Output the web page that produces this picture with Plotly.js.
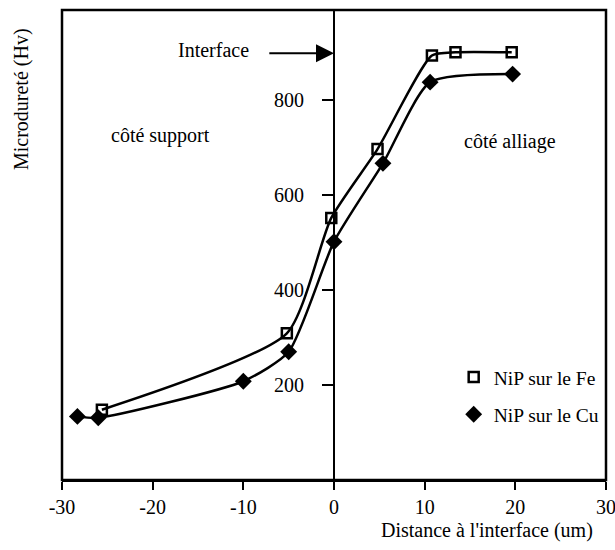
<!DOCTYPE html>
<html>
<head>
<meta charset="utf-8">
<script src="https://cdn.plot.ly/plotly-3.0.1.min.js"></script>
<style>html,body{margin:0;padding:0;background:#fff;}#chart{width:615px;height:550px;}</style>
</head>
<body>
<div id="chart"></div>
<script>
// Data
const feX = [-25.6, -5.2, -0.3, 4.8, 10.8, 13.4, 19.6];
const feY = [148, 309, 552, 697, 894, 901, 901];
const cuX = [-28.3, -26.0, -10.0, -5.0, 0.0, 5.4, 10.6, 19.7];
const cuY = [134, 131, 208, 270, 502, 667, 838, 855];
const feName = "NiP sur le Fe";
const cuName = "NiP sur le Cu";
const xTicks = [-30, -20, -10, 0, 10, 20, 30];
const yTicks = [200, 400, 600, 800];

const FONT = "Liberation Serif, Times New Roman, serif";

const traces = [
  {x: feX, y: feY, mode: "lines", line: {color: "#000", width: 2.5, shape: "spline", smoothing: 0.6},
   showlegend: false, hoverinfo: "skip"},
  {x: cuX, y: cuY, mode: "lines", line: {color: "#000", width: 2.5, shape: "spline", smoothing: 0.6},
   showlegend: false, hoverinfo: "skip"},
  {x: feX, y: feY, mode: "markers", name: feName, legendgroup: "fe",
   marker: {symbol: "square-open", size: 10, color: "#000", line: {width: 2.5, color: "#000"}}},
  {x: cuX, y: cuY, mode: "markers", name: cuName, legendgroup: "cu",
   marker: {symbol: "diamond", size: 13, color: "#000"}}
];

const layout = {
  width: 615, height: 550,
  margin: {l: 62, r: 9, t: 10, b: 70},
  paper_bgcolor: "#fff", plot_bgcolor: "#fff",
  font: {family: FONT, size: 20, color: "#000"},
  showlegend: true,
  legend: {x: 0.72, y: 0.26, xanchor: "left", yanchor: "top", bgcolor: "rgba(0,0,0,0)",
           font: {family: FONT, size: 19.5, color: "#000"}, tracegroupgap: 9, itemwidth: 30},
  xaxis: {range: [-30, 30], tickvals: xTicks, ticktext: xTicks.map(String),
          showgrid: false, zeroline: false, showline: true, linecolor: "#000", linewidth: 2,
          ticks: "outside", ticklen: 8, tickwidth: 2, tickcolor: "#000", ticklabeloverflow: "allow",
          tickfont: {family: FONT, size: 20, color: "#000"}},
  yaxis: {range: [0, 990], tickvals: yTicks, ticktext: yTicks.map(String),
          anchor: "free", position: 0.5,
          showgrid: false, zeroline: false, showline: true, linecolor: "#000", linewidth: 2,
          ticks: "outside", ticklen: 11, tickwidth: 2, tickcolor: "#000", ticklabelstandoff: 14,
          tickfont: {family: FONT, size: 20, color: "#000"}},
  shapes: [
    {type: "rect", xref: "paper", yref: "paper", x0: 0, x1: 1, y0: 0, y1: 1,
     line: {color: "#000", width: 2.5}, fillcolor: "rgba(0,0,0,0)"}
  ],
  annotations: [
    {text: "Microdureté (Hv)", xref: "paper", yref: "paper", x: -0.074, y: 0.81,
     xanchor: "center", yanchor: "middle",
     textangle: -90, showarrow: false, font: {family: FONT, size: 20}},
    {text: "Distance à l'interface (um)", xref: "paper", yref: "paper", x: 0.781, y: -0.108,
     xanchor: "center", yanchor: "middle",
     showarrow: false, font: {family: FONT, size: 20}},
    {text: "Interface", xref: "x", yref: "y", x: -13.3, y: 905, showarrow: false,
     xanchor: "center", yanchor: "middle",
     font: {family: FONT, size: 20}},
    {text: "", xref: "x", yref: "y", x: 0, y: 899, axref: "x", ayref: "y", ax: -7.3, ay: 899,
     showarrow: true, arrowhead: 2, arrowsize: 1.8, arrowwidth: 2, arrowcolor: "#000", standoff: 0},
    {text: "côté support", xref: "x", yref: "y", x: -19.1, y: 726, showarrow: false,
     xanchor: "center", yanchor: "middle",
     font: {family: FONT, size: 20}},
    {text: "côté alliage", xref: "x", yref: "y", x: 19.4, y: 714, showarrow: false,
     xanchor: "center", yanchor: "middle",
     font: {family: FONT, size: 20}}
  ]
};

Plotly.newPlot("chart", traces, layout, {displayModeBar: false, staticPlot: true});
</script>
</body>
</html>
